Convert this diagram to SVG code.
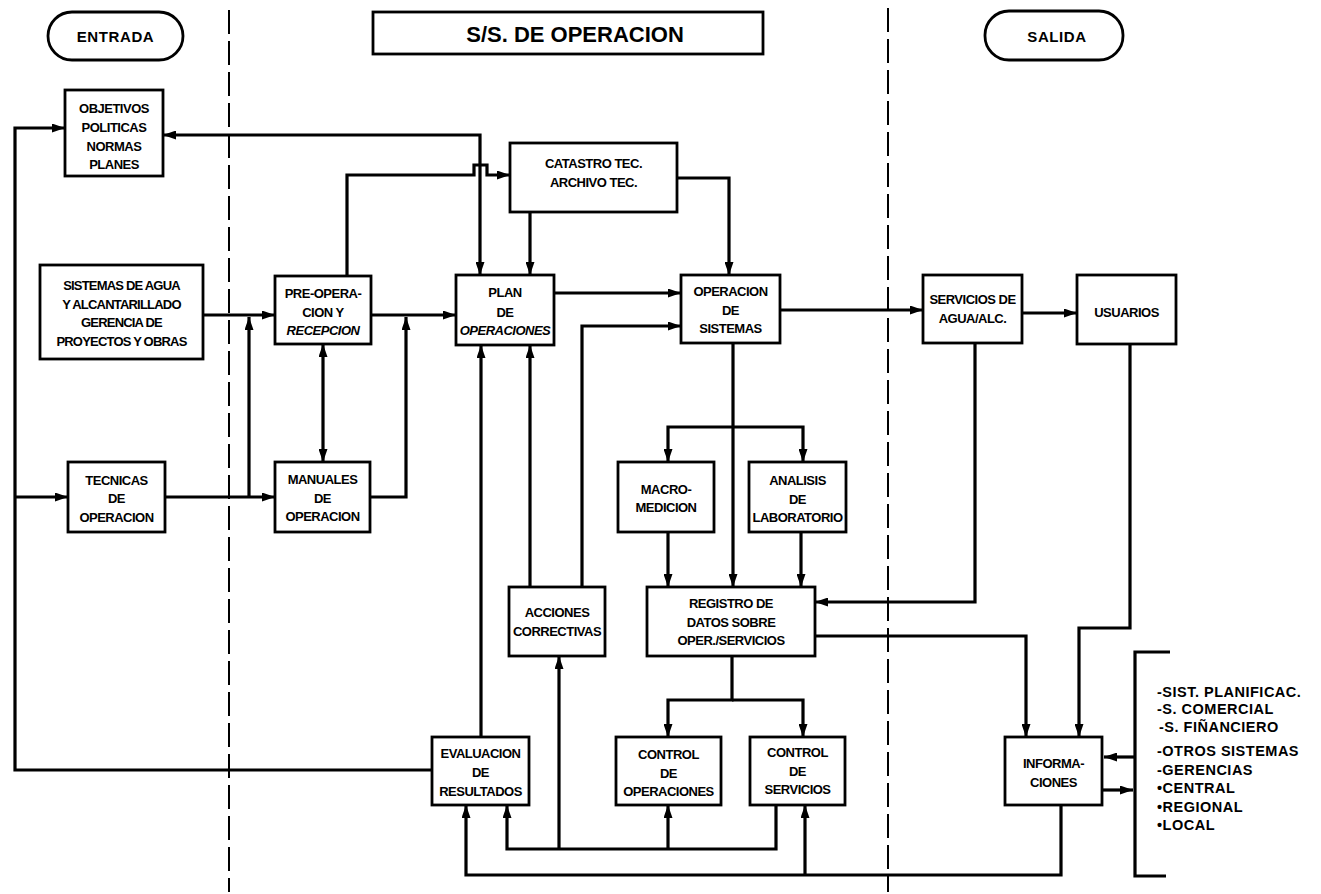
<svg xmlns="http://www.w3.org/2000/svg" width="1321" height="894" viewBox="0 0 1321 894">
<style>
.box{fill:#fff;stroke:#000;stroke-width:2.8}
.t{font-family:"Liberation Sans",Arial,sans-serif;font-weight:bold;font-size:13px;text-anchor:middle;fill:#000;letter-spacing:-0.5px}
.big{font-size:22px;letter-spacing:0}
.pill{font-size:15px;letter-spacing:0.6px}
.lst{font-family:"Liberation Sans",Arial,sans-serif;font-weight:bold;font-size:14.5px;fill:#000;letter-spacing:0.5px}
.c{fill:none;stroke:#000;stroke-width:3.2}
.a{marker-end:url(#arr)}
.b{marker-start:url(#arr);marker-end:url(#arr)}
.dash{fill:none;stroke:#000;stroke-width:2;stroke-dasharray:24 7}
.i{font-style:italic}
</style>
<defs>
<marker id="arr" markerUnits="userSpaceOnUse" markerWidth="13" markerHeight="9" refX="13" refY="4.5" orient="auto-start-reverse">
<path d="M0,0 L13,4.5 L0,9 Z" fill="#000"/>
</marker>
</defs>
<rect width="1321" height="894" fill="#fff"/>
<g id="separators">
<path class="dash" d="M229,10 L229,892"/>
<path class="dash" d="M888,8 L888,892"/>
</g>
<g id="connectors">
<path class="c a" d="M432,770 L15,770 L15,128 L65,128"/>
<path class="c a" d="M15,497 L68,497"/>
<path class="c b" d="M163,135 L480,135 L480,275"/>
<path class="c a" d="M347,276 L347,175 L474,175 L474,165 L487,165 L487,175 L510,175"/>
<path class="c a" d="M530,212 L530,275"/>
<path class="c a" d="M677,178 L729,178 L729,275"/>
<path class="c a" d="M203,315 L275,315"/>
<path class="c a" d="M165,497 L275,497"/>
<path class="c a" d="M249,497 L249,317"/>
<path class="c a" d="M371,315 L456,315"/>
<path class="c a" d="M370,497 L406,497 L406,317"/>
<path class="c b" d="M323,344 L323,462"/>
<path class="c a" d="M554,293 L681,293"/>
<path class="c a" d="M582,587 L582,326 L681,326"/>
<path class="c a" d="M780,310 L923,310"/>
<path class="c a" d="M1022,313 L1077,313"/>
<path class="c a" d="M975,343 L975,602 L815,602"/>
<path class="c a" d="M1130,344 L1130,628 L1079,628 L1079,737"/>
<path class="c a" d="M815,636 L1026,636 L1026,737"/>
<path class="c a" d="M733,343 L733,587"/>
<path class="c a" d="M733,427 L668,427 L668,462"/>
<path class="c a" d="M733,427 L803,427 L803,462"/>
<path class="c a" d="M668,532 L668,587"/>
<path class="c a" d="M801,532 L801,587"/>
<path class="c a" d="M732,656 L732,700 L668,700 L668,737"/>
<path class="c a" d="M732,700 L803,700 L803,737"/>
<path class="c a" d="M481,737 L481,345"/>
<path class="c a" d="M530,587 L530,345"/>
<path class="c a" d="M776,805 L776,849 L507,849 L507,805"/>
<path class="c a" d="M559,849 L559,656"/>
<path class="c a" d="M668,849 L668,805"/>
<path class="c a" d="M1061,805 L1061,875 L466,875 L466,805"/>
<path class="c a" d="M805,875 L805,805"/>
<path class="c a" d="M1135,757 L1104,757"/>
<path class="c a" d="M1102,790 L1133,790"/>
</g>
<g id="entrada">
<rect class="box" x="48" y="12" width="135" height="48" rx="24"/>
<text class="t pill" x="115.5" y="42">ENTRADA</text>
</g>
<g id="titulo">
<rect class="box" x="373" y="12" width="390" height="42"/>
<text class="t big" x="575" y="42">S/S. DE OPERACION</text>
</g>
<g id="salida">
<rect class="box" x="985" y="11" width="138" height="49" rx="24"/>
<text class="t pill" x="1057" y="42">SALIDA</text>
</g>
<g id="objetivos">
<rect class="box" x="65" y="90" width="98" height="86"/>
<text class="t" x="114"><tspan x="114" y="113">OBJETIVOS</tspan><tspan x="114" y="132">POLITICAS</tspan><tspan x="114" y="151">NORMAS</tspan><tspan x="114" y="169">PLANES</tspan></text>
</g>
<g id="sistemas">
<rect class="box" x="40" y="265" width="163" height="94"/>
<text class="t" x="121.5" style="letter-spacing:-0.8px"><tspan x="121.5" y="290">SISTEMAS DE AGUA</tspan><tspan x="121.5" y="309">Y ALCANTARILLADO</tspan><tspan x="121.5" y="327">GERENCIA DE</tspan><tspan x="121.5" y="346">PROYECTOS Y OBRAS</tspan></text>
</g>
<g id="tecnicas">
<rect class="box" x="68" y="462" width="97" height="70"/>
<text class="t" x="116.5"><tspan x="116.5" y="485">TECNICAS</tspan><tspan x="116.5" y="503">DE</tspan><tspan x="116.5" y="522">OPERACION</tspan></text>
</g>
<g id="preoperacion">
<rect class="box" x="275" y="276" width="96" height="68"/>
<text class="t" x="323"><tspan x="323" y="298">PRE-OPERA-</tspan><tspan x="323" y="317">CION Y</tspan><tspan class="i" x="323" y="335">RECEPCION</tspan></text>
</g>
<g id="manuales">
<rect class="box" x="275" y="462" width="95" height="70"/>
<text class="t" x="322.5"><tspan x="322.5" y="484">MANUALES</tspan><tspan x="322.5" y="503">DE</tspan><tspan x="322.5" y="521">OPERACION</tspan></text>
</g>
<g id="catastro">
<rect class="box" x="510" y="143" width="167" height="69"/>
<text class="t" x="593.5"><tspan x="593.5" y="168">CATASTRO TEC.</tspan><tspan x="593.5" y="187">ARCHIVO TEC.</tspan></text>
</g>
<g id="plan">
<rect class="box" x="456" y="275" width="98" height="70"/>
<text class="t" x="505"><tspan x="505" y="297">PLAN</tspan><tspan x="505" y="317">DE</tspan><tspan class="i" x="505" y="335">OPERACIONES</tspan></text>
</g>
<g id="operacion">
<rect class="box" x="681" y="275" width="99" height="68"/>
<text class="t" x="730.5"><tspan x="730.5" y="296">OPERACION</tspan><tspan x="730.5" y="315">DE</tspan><tspan x="730.5" y="333">SISTEMAS</tspan></text>
</g>
<g id="servicios">
<rect class="box" x="923" y="275" width="99" height="68"/>
<text class="t" x="972.5"><tspan x="972.5" y="304">SERVICIOS DE</tspan><tspan x="972.5" y="323">AGUA/ALC.</tspan></text>
</g>
<g id="usuarios">
<rect class="box" x="1077" y="275" width="99" height="69"/>
<text class="t" x="1126.5" y="317">USUARIOS</text>
</g>
<g id="macromedicion">
<rect class="box" x="618" y="462" width="96" height="70"/>
<text class="t" x="666"><tspan x="666" y="494">MACRO-</tspan><tspan x="666" y="512">MEDICION</tspan></text>
</g>
<g id="analisis">
<rect class="box" x="749" y="462" width="97" height="70"/>
<text class="t" x="797.5"><tspan x="797.5" y="485">ANALISIS</tspan><tspan x="797.5" y="504">DE</tspan><tspan x="797.5" y="522">LABORATORIO</tspan></text>
</g>
<g id="acciones">
<rect class="box" x="509" y="587" width="96" height="69"/>
<text class="t" x="557"><tspan x="557" y="617">ACCIONES</tspan><tspan x="557" y="636">CORRECTIVAS</tspan></text>
</g>
<g id="registro">
<rect class="box" x="647" y="587" width="168" height="69"/>
<text class="t" x="731"><tspan x="731" y="608">REGISTRO DE</tspan><tspan x="731" y="627">DATOS SOBRE</tspan><tspan x="731" y="645">OPER./SERVICIOS</tspan></text>
</g>
<g id="evaluacion">
<rect class="box" x="432" y="737" width="97" height="68"/>
<text class="t" x="480.5"><tspan x="480.5" y="758">EVALUACION</tspan><tspan x="480.5" y="777">DE</tspan><tspan x="480.5" y="796">RESULTADOS</tspan></text>
</g>
<g id="control-operaciones">
<rect class="box" x="616" y="737" width="105" height="68"/>
<text class="t" x="668.5"><tspan x="668.5" y="759">CONTROL</tspan><tspan x="668.5" y="778">DE</tspan><tspan x="668.5" y="796">OPERACIONES</tspan></text>
</g>
<g id="control-servicios">
<rect class="box" x="750" y="737" width="95" height="68"/>
<text class="t" x="797.5"><tspan x="797.5" y="757">CONTROL</tspan><tspan x="797.5" y="776">DE</tspan><tspan x="797.5" y="794">SERVICIOS</tspan></text>
</g>
<g id="informaciones">
<rect class="box" x="1005" y="737" width="97" height="68"/>
<text class="t" x="1053.5"><tspan x="1053.5" y="768">INFORMA-</tspan><tspan x="1053.5" y="787">CIONES</tspan></text>
</g>
<g id="otros-sistemas">
<path class="c" d="M1170,652 L1135,652 L1135,876 L1166,876"/>
<text class="lst"><tspan x="1157" y="697">-SIST. PLANIFICAC.</tspan><tspan x="1157" y="714">-S. COMERCIAL</tspan><tspan x="1159" y="732">-S. FIÑANCIERO</tspan><tspan x="1157" y="756">-OTROS SISTEMAS</tspan><tspan x="1157" y="775">-GERENCIAS</tspan><tspan x="1157" y="793">•CENTRAL</tspan><tspan x="1157" y="812">•REGIONAL</tspan><tspan x="1157" y="830">•LOCAL</tspan></text>
</g>
</svg>
